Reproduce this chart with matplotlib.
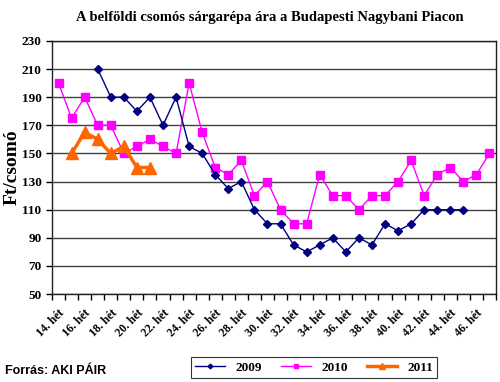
import numpy as np
import matplotlib
matplotlib.use('Agg')
import matplotlib.pyplot as plt

weeks = list(range(14, 48))
labels = [f'{w}. hét' for w in weeks]

# week -> price, None where no data
y2009 = [None, None, None, 210, 190, 190, 180, 190, 170, 190, 155, 150, 135, 125, 130,
         110, 100, 100, 85, 80, 85, 90, 80, 90, 85, 100, 95, 100, 110, 110, 110, 110, None, None]
y2010 = [200, 175, 190, 170, 170, 150, 155, 160, 155, 150, 200, 165, 140, 135, 145,
         120, 130, 110, 100, 100, 135, 120, 120, 110, 120, 120, 130, 145, 120, 135, 140, 130, 135, 150]
y2011 = [None, 150, 165, 160, 150, 155, 140, 140] + [None] * 26

serif = 'Liberation Serif'

fig = plt.figure(figsize=(5, 3.82), dpi=100)
ax = fig.add_axes([0.104, 0.230, 0.888, 0.663])

x = np.arange(len(weeks))
a = np.array(y2009, dtype=float)
b = np.array(y2010, dtype=float)
c = np.array(y2011, dtype=float)

ax.plot(x, b, color='#FF00FF', lw=1.0, marker='s', ms=6, label='2010', zorder=3)
ax.plot(x, a, color='#000080', lw=1.0, marker='D', ms=4, label='2009', zorder=4)
ax.plot(x, c, color='#FF6600', lw=2.5, marker='^', ms=8, label='2011', zorder=5)

ax.set_ylim(50, 230)
ax.set_yticks(np.arange(50, 231, 20))
ax.set_xlim(-0.5, len(weeks) - 0.5)
ax.yaxis.grid(True, color='#404040', lw=1.0)
ax.set_axisbelow(True)

ax.set_xticks(np.arange(-0.5, len(weeks), 1.0))
ax.set_xticklabels([])
ax.set_xticks(x[::2], minor=True)
ax.set_xticklabels(labels[::2], minor=True, rotation=45, ha='right', va='top',
                   rotation_mode='anchor', family=serif, fontweight='bold', fontsize=8.5)
ax.tick_params(axis='x', which='major', direction='out', length=4, width=1)
ax.tick_params(axis='x', which='minor', length=0, pad=9)
ax.tick_params(axis='y', direction='out', length=4, width=1)
for t in ax.get_yticklabels():
    t.set_family(serif)
    t.set_fontweight('bold')
    t.set_fontsize(9.5)

for s in ax.spines.values():
    s.set_color('#202020')
    s.set_linewidth(1.0)

ax.set_ylabel('Ft/csomó', family=serif, fontweight='bold', fontsize=14, labelpad=1)
fig.text(0.54, 0.955, 'A belföldi csomós sárgarépa ára a Budapesti Nagybani Piacon',
         ha='center', va='center', family=serif, fontweight='bold', fontsize=10.5)
fig.text(0.01, 0.03, 'Forrás: AKI PÁIR', ha='left', va='center',
         family='Liberation Sans', fontweight='bold', fontsize=9)

h, l = ax.get_legend_handles_labels()
order = [1, 0, 2]
leg = fig.legend([h[i] for i in order], [l[i] for i in order], loc='center',
                 bbox_to_anchor=(0.628, 0.038), ncol=3, frameon=True, fancybox=False,
                 prop={'family': serif, 'weight': 'bold', 'size': 9.5},
                 handlelength=2.3, columnspacing=1.4, borderpad=0.3, markerscale=0.6)
leg.get_frame().set_edgecolor('black')
leg.get_frame().set_linewidth(0.8)

fig.savefig('out.png', dpi=100)
